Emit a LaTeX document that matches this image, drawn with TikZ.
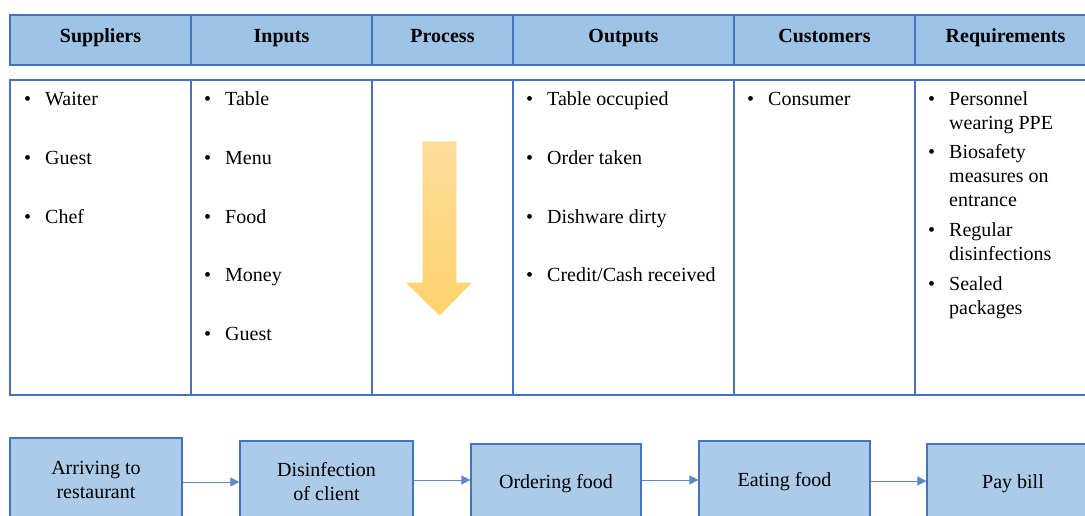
\documentclass[tikz,border=0pt]{standalone}
\usepackage{fontspec}
\setmainfont{LiberationSerif}[Extension=.ttf,UprightFont=*-Regular,BoldFont=*-Bold,ItalicFont=*-Italic,BoldItalicFont=*-BoldItalic]
\usetikzlibrary{arrows.meta}
\definecolor{edgeblue}{HTML}{4472C4}
\definecolor{headblue}{HTML}{9DC3E6}
\definecolor{boxblue}{HTML}{ABCBE9}
\definecolor{arrowtop}{HTML}{FDDC9A}
\definecolor{arrowbot}{HTML}{FFD26C}
\definecolor{arrowedge}{HTML}{FFD966}
\begin{document}
\begin{tikzpicture}[x=1pt,y=-1pt,
	cell/.style={draw=edgeblue,line width=1.2pt},
	rule/.style={draw=edgeblue,line width=2.6pt},
	headtxt/.style={anchor=base,font=\fontsize{20}{24}\selectfont\bfseries},
	item/.style={anchor=base west,inner sep=0pt,font=\fontsize{20}{24}\selectfont},
	stepbox/.style={draw=edgeblue,fill=boxblue,line width=1.2pt,align=center,font=\fontsize{20}{24}\selectfont},
	flow/.style={-{Triangle[length=9pt,width=9pt]},draw=edgeblue!85,line width=0.8pt}]
	\useasboundingbox (0,0) rectangle (1085,516);
	\clip (0,0) rectangle (1085,516);
	
	% header band
	\draw[cell,fill=headblue] (10,15) rectangle (1096,65);
	\draw[cell] (191,15) -- (191,65) (372,15) -- (372,65) (513,15) -- (513,65) (734,15) -- (734,65) (915,15) -- (915,65);
	\draw[rule] (10,65) -- (1096,65);
	\node[headtxt] (hsup) at (100.5,43) {Suppliers};
	\node[headtxt] (hin) at (281.5,43) {Inputs};
	\node[headtxt] (hproc) at (442.5,43) {Process};
	\node[headtxt] (hout) at (623.5,43) {Outputs};
	\node[headtxt] (hcust) at (824.5,43) {Customers};
	\node[headtxt] (hreq) at (1005.5,43) {Requirements};
	
	% body
	\draw[cell] (10,80) rectangle (1096,395);
	\draw[cell] (191,80) -- (191,395) (372,80) -- (372,395) (513,80) -- (513,395) (734,80) -- (734,395) (915,80) -- (915,395);
	\draw[rule] (10,395) -- (1096,395);
	
	\node[item] (sup1) at (24,106) {\textbullet\hspace{14pt}Waiter};
	\node[item] (sup2) at (24,164.5) {\textbullet\hspace{14pt}Guest};
	\node[item] (sup3) at (24,223) {\textbullet\hspace{14pt}Chef};
	
	\node[item] (in1) at (204,106) {\textbullet\hspace{14pt}Table};
	\node[item] (in2) at (204,164.5) {\textbullet\hspace{14pt}Menu};
	\node[item] (in3) at (204,223) {\textbullet\hspace{14pt}Food};
	\node[item] (in4) at (204,281.5) {\textbullet\hspace{14pt}Money};
	\node[item] (in5) at (204,340) {\textbullet\hspace{14pt}Guest};
	
	\draw[top color=arrowtop,bottom color=arrowbot,draw=arrowedge,line width=0.8pt]
		(423,142) -- (456,142) -- (456,283) -- (471,283) -- (439.5,315) -- (407,283) -- (423,283) -- cycle;
	
	\node[item] (out1) at (526,106) {\textbullet\hspace{14pt}Table occupied};
	\node[item] (out2) at (526,164.5) {\textbullet\hspace{14pt}Order taken};
	\node[item] (out3) at (526,223) {\textbullet\hspace{14pt}Dishware dirty};
	\node[item] (out4) at (526,281.5) {\textbullet\hspace{14pt}Credit/Cash received};
	
	\node[item] (cust1) at (747,106) {\textbullet\hspace{14pt}Consumer};
	
	\node[item] (req1) at (928,106) {\textbullet\hspace{14pt}\begin{tabular}[t]{@{}l@{}}Personnel\\wearing PPE\end{tabular}};
	\node[item] (req2) at (928,159) {\textbullet\hspace{14pt}\begin{tabular}[t]{@{}l@{}}Biosafety\\measures on\\entrance\end{tabular}};
	\node[item] (req3) at (928,236.5) {\textbullet\hspace{14pt}\begin{tabular}[t]{@{}l@{}}Regular\\disinfections\end{tabular}};
	\node[item] (req4) at (928,290) {\textbullet\hspace{14pt}\begin{tabular}[t]{@{}l@{}}Sealed\\packages\end{tabular}};
	
	% process steps
	\node[stepbox,minimum width=172pt,minimum height=84pt] (arrive) at (96,480) {Arriving to\\restaurant};
	\node[stepbox,minimum width=173pt,minimum height=82pt] (disinf) at (326.5,482) {Disinfection\\of client};
	\node[stepbox,minimum width=170pt,minimum height=80pt] (order) at (556,484) {Ordering food};
	\node[stepbox,minimum width=171pt,minimum height=82pt] (eat) at (784.5,482) {Eating food};
	\node[stepbox,minimum width=172pt,minimum height=80pt] (pay) at (1013,484) {Pay bill};
	
	\draw[flow] (arrive.east |- 0,482) -- (disinf.west |- 0,482);
	\draw[flow] (disinf.east |- 0,480) -- (order.west |- 0,480);
	\draw[flow] (order.east |- 0,480) -- (eat.west |- 0,480);
	\draw[flow] (eat.east |- 0,481) -- (pay.west |- 0,481);
\end{tikzpicture}
\end{document}
